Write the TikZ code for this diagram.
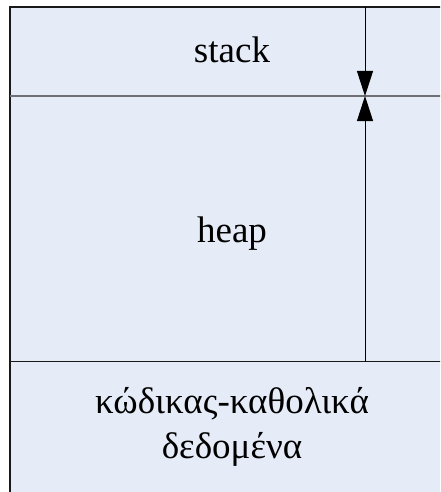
\documentclass[tikz,border=0pt]{standalone}
\usepackage{fontspec}
\setmainfont{Liberation Serif}
\usetikzlibrary{arrows.meta}
\definecolor{memfill}{HTML}{E6ECF7}
\definecolor{divgray}{HTML}{6E7075}
\tikzset{
  label text/.style={font=\fontsize{37}{45}\selectfont, text=black, align=center, inner sep=0pt},
  growth/.style={line width=0.9pt, -{Triangle[length=25pt,width=16pt]}},
}
\begin{document}
\begin{tikzpicture}[x=1pt, y=-1pt]
  \useasboundingbox (0,0) rectangle (440,492);
  \clip (0,0) rectangle (440,492);
  % memory block, running past the right and bottom edges
  \draw[fill=memfill, line width=1.6pt, draw=black!90] (10,7) rectangle (450,510);
  % region dividers
  \draw[divgray, line width=1.8pt] (10,96) -- (450,96);
  \draw[black!90, line width=1.4pt] (10,361.5) -- (450,361.5);
  % growth axis of stack and heap
  \coordinate (top) at (365,7);
  \coordinate (meet) at (365,96);
  \coordinate (base) at (365,361.5);
  \draw[growth] (top) -- (meet);
  \draw[growth] (base) -- (meet);
  % region labels
  \node[label text, anchor=base] (stack) at (232,63) {stack};
  \node[label text, anchor=base] (heap) at (232,242) {heap};
  \node[label text, anchor=base] (code) at (232,413) {κώδικας-καθολικά};
  \node[label text, anchor=base] (data) at (232,458) {δεδομένα};
\end{tikzpicture}
\end{document}
